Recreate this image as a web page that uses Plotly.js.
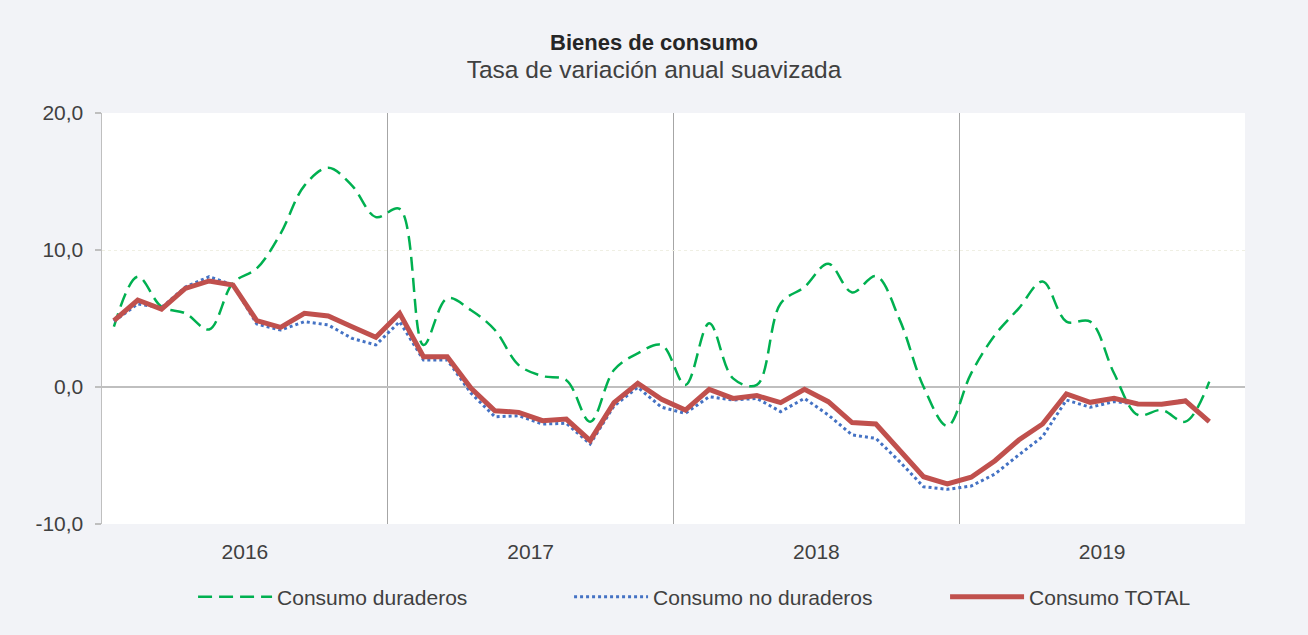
<!DOCTYPE html>
<html>
<head>
<meta charset="utf-8">
<script src="https://cdn.plot.ly/plotly-3.0.1.min.js"></script>
<style>
html,body{margin:0;padding:0;background:#f2f3f7;}
#chart{width:1308px;height:635px;}
</style>
</head>
<body>
<div id="chart"></div>
<script>
// Monthly data, Jan 2016 .. Nov 2019
var months = [];
for (var k = 0; k < 47; k++) { months.push(k + 0.5); }

var yearLabels = ['2016', '2017', '2018', '2019'];
var yearCenters = [6, 18, 30, 42];

var yTickVals = [-10, 0, 10, 20];
var yTickText = ['-10,0', '0,0', '10,0', '20,0'];

var duraderos = [
  4.4, 8.05, 5.86, 5.38, 4.2, 7.6, 8.66, 11.2, 14.7, 16.0, 14.7, 12.4,
  13.0, 3.07, 6.47, 5.6, 4.16, 1.6, 0.8, 0.5, -2.53, 1.24, 2.46, 3.07,
  0.15, 4.65, 0.63, 0.15, 6.1, 7.3, 9.0, 6.9, 8.1, 4.9, 0.02, -2.85,
  1.0, 3.8, 5.74, 7.7, 4.77, 4.77, 1.0, -2.04, -1.68, -2.53, 0.39
];

var noDuraderos = [
  4.8, 6.06, 5.8, 7.3, 8.05, 7.45, 4.6, 4.16, 4.77, 4.53, 3.55, 3.07,
  4.77, 1.97, 1.97, -0.46, -2.17, -2.1, -2.7, -2.65, -4.16, -1.39, -0.02, -1.48,
  -1.92, -0.71, -0.95, -0.83, -1.8, -0.83, -2.04, -3.5, -3.75, -5.45, -7.28, -7.47,
  -7.23, -6.35, -4.96, -3.62, -0.95, -1.48, -1.07, -1.24, -1.24, -0.95, -2.6
];

var total = [
  4.84, 6.35, 5.69, 7.2, 7.74, 7.45, 4.84, 4.35, 5.38, 5.18, 4.4, 3.63,
  5.38, 2.21, 2.21, -0.1, -1.73, -1.85, -2.46, -2.34, -3.92, -1.14, 0.27, -0.9,
  -1.68, -0.17, -0.83, -0.63, -1.14, -0.17, -1.07, -2.6, -2.7, -4.6, -6.55, -7.08,
  -6.59, -5.38, -3.87, -2.7, -0.51, -1.12, -0.83, -1.24, -1.26, -1.02, -2.53
];

var seriesNames = ['Consumo duraderos', 'Consumo no duraderos', 'Consumo TOTAL'];

var traces = [
  {x: months, y: duraderos, name: seriesNames[0], type: 'scatter', mode: 'lines',
   line: {color: '#00b050', width: 2.5, dash: '14px,7px', shape: 'spline', smoothing: 1}},
  {x: months, y: noDuraderos, name: seriesNames[1], type: 'scatter', mode: 'lines',
   line: {color: '#4472c4', width: 3, dash: 'dot'}},
  {x: months, y: total, name: seriesNames[2], type: 'scatter', mode: 'lines',
   line: {color: '#c0504d', width: 5}}
];

var layout = {
  width: 1308, height: 635,
  paper_bgcolor: '#f2f3f7',
  plot_bgcolor: '#ffffff',
  font: {family: '"Liberation Sans", Arial, sans-serif', color: '#404040', size: 21},
  margin: {l: 102, r: 63, t: 113, b: 111, autoexpand: false},
  title: {
    text: '<b>Bienes de consumo</b><br><span style="font-size:24.5px;color:#404040">Tasa de variación anual suavizada</span>',
    x: 0.5, xanchor: 'center', yref: 'container', y: 0.922, yanchor: 'top',
    font: {size: 22, color: '#262626'}
  },
  xaxis: {
    range: [0, 48],
    tickmode: 'array', tickvals: yearCenters, ticktext: yearLabels,
    ticks: '', showgrid: false, zeroline: false, showline: false,
    ticklabelstandoff: 13,
    tickfont: {size: 21, color: '#404040'},
    minor: {tickmode: 'linear', tick0: 0, dtick: 12, showgrid: true, gridcolor: '#a6a6a6', gridwidth: 1, ticks: ''},
    fixedrange: true
  },
  yaxis: {
    range: [-10, 20],
    tickmode: 'array', tickvals: yTickVals, ticktext: yTickText,
    ticks: 'outside', ticklen: 6, tickcolor: '#bfbfbf', tickwidth: 1.5,
    ticklabelstandoff: 7,
    showline: true, linecolor: '#bfbfbf', linewidth: 1.5,
    showgrid: true, gridcolor: '#efefe3', gridwidth: 1, griddash: 'dot',
    zeroline: true, zerolinecolor: '#bfbfbf', zerolinewidth: 2,
    tickfont: {size: 21, color: '#404040'},
    fixedrange: true
  },
  legend: {
    orientation: 'h', xref: 'container', x: 0.1476, xanchor: 'left',
    y: -0.178, yanchor: 'middle',
    entrywidth: 287, entrywidthmode: 'pixels', itemwidth: 74,
    font: {size: 21, color: '#404040'},
    bgcolor: 'rgba(0,0,0,0)'
  },
  showlegend: true
};

Plotly.newPlot('chart', traces, layout, {displayModeBar: false, staticPlot: true});
</script>
</body>
</html>
